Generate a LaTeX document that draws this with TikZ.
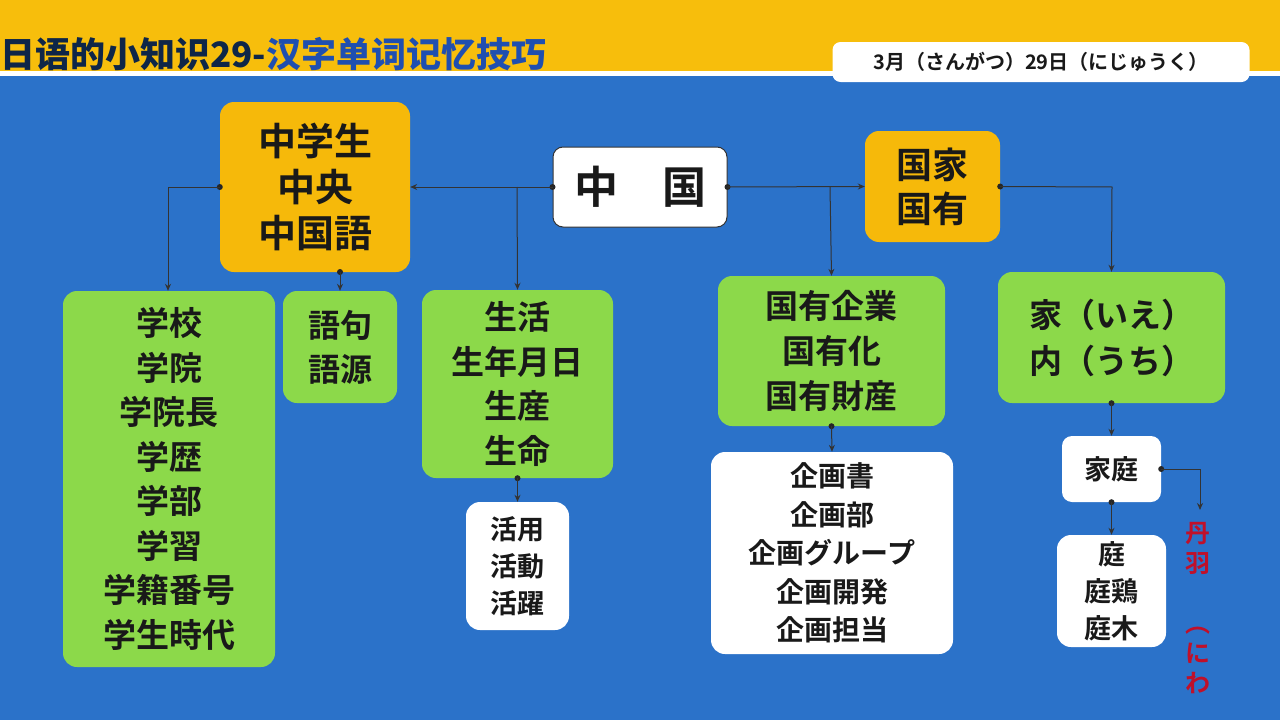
\documentclass[tikz,border=0pt]{standalone}
\usepackage{fontspec}
\setmainfont{Noto Sans CJK JP Bold}
\newfontfamily\titlefont{Noto Sans CJK SC Black}
\usetikzlibrary{arrows.meta}
\definecolor{bgblue}{HTML}{2B72C9}
\definecolor{topyel}{HTML}{F7BE0C}
\definecolor{boxgreen}{HTML}{8CD94A}
\definecolor{boxorange}{HTML}{F6B90A}
\definecolor{tblue}{HTML}{1F4FB0}
\definecolor{tdark}{HTML}{0E2648}
\definecolor{redtxt}{HTML}{C0102A}
\tikzset{
 bx/.style={rounded corners=14pt, inner sep=0pt, align=center, text=black!90},
 gbox/.style={bx, fill=boxgreen},
 obox/.style={bx, fill=boxorange},
 wbox/.style={bx, fill=white},
 conn/.style={draw=black!80, line width=1pt, -{Stealth[length=7pt,width=6pt]}},
 dotc/.style={circle, fill=black!85, inner sep=0pt, minimum size=6pt},
}
\begin{document}
\begin{tikzpicture}[x=1pt,y=-1pt]
\useasboundingbox (0,0) rectangle (1280,720);
\fill[bgblue] (0,0) rectangle (1280,720);
\fill[topyel] (0,0) rectangle (1280,71);
\fill[white] (0,71) rectangle (1280,76);
\node[anchor=west, inner sep=0pt, font=\titlefont\fontsize{35}{35}\selectfont] (title) at (0,54) {\textcolor{tdark}{日语的小知识29-}\textcolor{tblue}{汉字单词记忆技巧}};
\node[wbox, rounded corners=8pt, minimum width=417pt, minimum height=40pt, font=\fontsize{20}{20}\selectfont] (date) at (1041,62) {3月（さんがつ）29日（にじゅうく）};

\node[obox, minimum width=190pt, minimum height=170pt, font=\fontsize{38}{46}\selectfont] (zgs) at (315,187) {中学生\\中央\\中国語};
\node[wbox, draw=black!80, line width=1pt, rounded corners=10pt, minimum width=174pt, minimum height=80pt, font=\fontsize{44}{44}\selectfont] (zg) at (640,187) {中\hspace{1em}国};
\node[obox, minimum width=135pt, minimum height=111pt, font=\fontsize{36}{44}\selectfont] (gj) at (932.5,186.5) {国家\\国有};

\node[gbox, minimum width=212pt, minimum height=376pt, font=\fontsize{33}{44.5}\selectfont] (xx) at (169,479) {学校\\学院\\学院長\\学歴\\学部\\学習\\学籍番号\\学生時代};
\node[gbox, minimum width=114pt, minimum height=112pt, font=\fontsize{32}{44}\selectfont] (yj) at (340,347) {語句\\語源};
\node[gbox, minimum width=191pt, minimum height=188pt, font=\fontsize{33}{44.5}\selectfont] (sh) at (517.5,384) {生活\\生年月日\\生産\\生命};
\node[wbox, minimum width=103pt, minimum height=128pt, font=\fontsize{27}{37}\selectfont] (hy) at (517.5,566) {活用\\活動\\活躍};
\node[gbox, minimum width=227pt, minimum height=150pt, font=\fontsize{33}{45}\selectfont] (gy) at (831.5,351) {国有企業\\国有化\\国有財産};
\node[wbox, minimum width=242pt, minimum height=202pt, font=\fontsize{28}{38.5}\selectfont] (qh) at (832,553) {企画書\\企画部\\企画グループ\\企画開発\\企画担当};
\node[gbox, minimum width=227pt, minimum height=131pt, font=\fontsize{33}{46}\selectfont] (ie) at (1111.5,337.5) {家（いえ）\\内（うち）};
\node[wbox, rounded corners=10pt, minimum width=99pt, minimum height=66pt, font=\fontsize{27}{27}\selectfont] (jt) at (1111.5,469) {家庭};
\node[wbox, minimum width=109pt, minimum height=112pt, font=\fontsize{27}{37}\selectfont] (t) at (1111.5,591) {庭\\庭鶏\\庭木};
\node[text=redtxt, inner sep=0pt, align=center, font=\fontsize{25}{30}\selectfont] (nw) at (1198,608) {丹\\羽\\\\︵\\に\\わ};

\coordinate (c1) at (168,187);
\coordinate (c2) at (517,187);
\coordinate (c3) at (830,187);
\coordinate (c4) at (1112,187);
\coordinate (c5) at (1200,469);
\coordinate (c6) at (1200,510);
\coordinate (c7) at (340,272);

\node[dotc] at (zg.west) {};
\draw[conn] (zg.west) -- (zgs.east);
\draw[conn] (c2) -- (sh.north);
\node[dotc] at (zgs.west) {};
\draw[conn] (zgs.west) -- (c1) -- (c1 |- xx.north);
\node[dotc] at (c7) {};
\draw[conn] (c7) -- (c7 |- yj.north);
\node[dotc] at (zg.east) {};
\draw[conn] (zg.east) -- (gj.west);
\draw[conn] (c3) -- (gy.north);
\node[dotc] at (gj.east) {};
\draw[conn] (gj.east) -- (c4) -- (ie.north);
\node[dotc] at (sh.south) {};
\draw[conn] (sh.south) -- (hy.north);
\node[dotc] at (gy.south) {};
\draw[conn] (gy.south) -- (qh.north);
\node[dotc] at (ie.south) {};
\draw[conn] (ie.south) -- (jt.north);
\node[dotc] at (jt.east) {};
\draw[conn] (jt.east) -- (c5) -- (c6);
\node[dotc] at (jt.south) {};
\draw[conn] (jt.south) -- (t.north);
\end{tikzpicture}
\end{document}
